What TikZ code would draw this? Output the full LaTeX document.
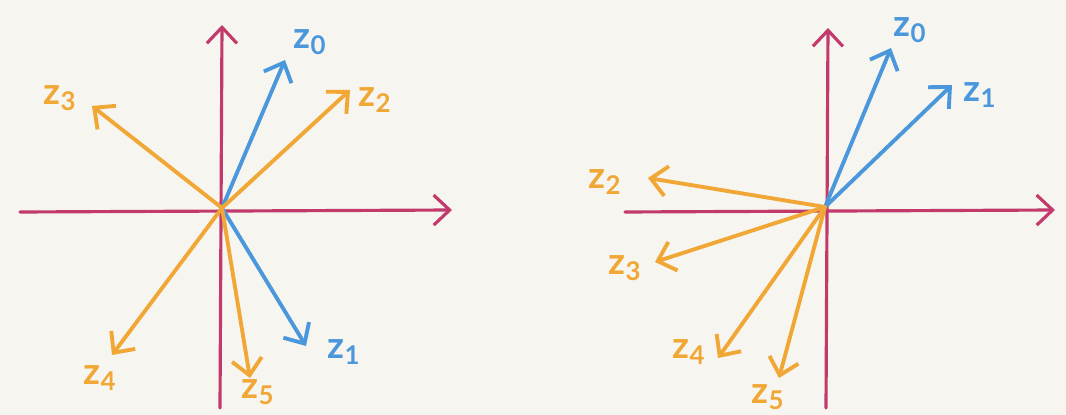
\documentclass[tikz,border=0pt]{standalone}
\usepackage{fontspec}
\setmainfont{Lato}
\usetikzlibrary{arrows.meta}

\definecolor{paper}{HTML}{F7F5EF}
\definecolor{axisred}{HTML}{C23A6B}
\definecolor{vecblue}{HTML}{4A97DC}
\definecolor{vecorange}{HTML}{F1A735}

\begin{document}
\begin{tikzpicture}[
  x=0.02cm, y=-0.02cm,
  axis/.style={-{Straight Barb[length=3.2mm,width=6mm]}, line width=1.8pt, axisred, line cap=round},
  vecb/.style={-{Straight Barb[length=3.2mm,width=6mm]}, line width=2.2pt, vecblue, line cap=round},
  veco/.style={-{Straight Barb[length=3.2mm,width=6mm]}, line width=2.2pt, vecorange, line cap=round},
  lbl/.style={font=\fontsize{21}{24}\selectfont\bfseries, inner sep=1pt}
]

\fill[paper] (0,0) rectangle (1066,415);
\useasboundingbox (0,0) rectangle (1066,415);

% left diagram
\coordinate (Lw) at (20,212);
\coordinate (Le) at (452,210);
\coordinate (Ls) at (220,408);
\coordinate (Ln) at (222,25);
\coordinate (LO) at (222,208);
\draw[axis] (Lw) -- (Le);
\draw[axis] (Ls) -- (Ln);

\coordinate (Lz0) at (285,60);
\coordinate (Lz1) at (306,346);
\coordinate (Lz2) at (350,90);
\coordinate (Lz3) at (92,106);
\coordinate (Lz4) at (112,355);
\coordinate (Lz5) at (250,378);
\draw[vecb] (LO) -- (Lz0);
\draw[vecb] (LO) -- (Lz1);
\foreach \v in {2,3,4,5} { \draw[veco] (LO) -- (Lz\v); }

\node[lbl, vecblue]   (Lt0) at (310,42)  {z\textsubscript{0}};
\node[lbl, vecblue]   (Lt1) at (344,352) {z\textsubscript{1}};
\node[lbl, vecorange] (Lt2) at (375,100) {z\textsubscript{2}};
\node[lbl, vecorange] (Lt3) at (60,98)   {z\textsubscript{3}};
\node[lbl, vecorange] (Lt4) at (100,378) {z\textsubscript{4}};
\node[lbl, vecorange] (Lt5) at (258,392) {z\textsubscript{5}};

% right diagram
\coordinate (Rw) at (625,212);
\coordinate (Re) at (1055,210);
\coordinate (Rs) at (826,408);
\coordinate (Rn) at (828,28);
\coordinate (RO) at (825,207);
\draw[axis] (Rw) -- (Re);
\draw[axis] (Rs) -- (Rn);

\coordinate (Rz0) at (891,48);
\coordinate (Rz1) at (952,85);
\coordinate (Rz2) at (648,178);
\coordinate (Rz3) at (655,262);
\coordinate (Rz4) at (718,358);
\coordinate (Rz5) at (779,378);
\draw[vecb] (RO) -- (Rz0);
\draw[vecb] (RO) -- (Rz1);
\foreach \v in {2,3,4,5} { \draw[veco] (RO) -- (Rz\v); }

\node[lbl, vecblue]   (Rt0) at (910,30)  {z\textsubscript{0}};
\node[lbl, vecblue]   (Rt1) at (980,95)  {z\textsubscript{1}};
\node[lbl, vecorange] (Rt2) at (605,182) {z\textsubscript{2}};
\node[lbl, vecorange] (Rt3) at (625,268) {z\textsubscript{3}};
\node[lbl, vecorange] (Rt4) at (689,352) {z\textsubscript{4}};
\node[lbl, vecorange] (Rt5) at (768,397) {z\textsubscript{5}};

\end{tikzpicture}
\end{document}
